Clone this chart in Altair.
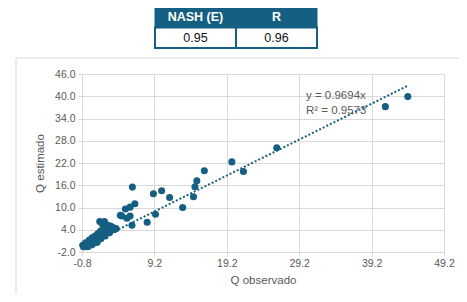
import altair as alt
import pandas as pd

# ---- data ----
q_observado = [
    -0.6, -0.5, -0.4, -0.3, -0.2, -0.1, 0.0, 0.1, 0.2, 0.3, 0.4, 0.5, 0.6, 0.7, 0.8, 0.9,
    1.0, 1.1, 1.2, 1.3, 1.4, 1.5, 1.6, 1.7, 1.8, 1.9, 2.0, 2.1, 2.2, 2.3, 2.4, 2.5, 2.6,
    2.7, 2.8, 2.9, 3.0, 3.2, 3.4, 3.1, 1.3, 0.6, 1.0,
    0.2, 0.6, 1.0, 1.4, 1.8, 2.2, 2.6, 0.0, 0.5, 1.8, 2.4, 3.0, 3.6, 3.9, -0.7, -0.3,
    1.65, 2.3, 2.0, 2.7,
    4.7, 5.4, 5.84, 5.2, 5.84, 6.5, 6.16, 6.1, 4.5,
    8.2, 9.35, 9.06, 10.2, 11.3, 13.1, 14.6, 14.8, 15.06, 16.1, 19.9, 21.5, 26.1, 41.1, 44.2,
]
q_estimado = [
    -0.6, -0.3, -0.6, -0.1, 0.1, -0.3, 0.3, 0.0, 0.6, 0.3, 0.9, 0.5, 1.1, 1.3, 0.9, 1.6,
    1.2, 1.9, 1.5, 2.2, 2.5, 1.9, 2.8, 2.3, 3.1, 2.6, 3.3, 3.6, 2.9, 3.9, 3.3, 4.1, 3.6,
    4.3, 3.8, 4.5, 4.0, 4.4, 4.7, 5.0, 0.6, 0.1, 0.5,
    1.2, 1.8, 2.3, 3.0, 3.7, 4.3, 4.8, -0.6, -0.1, 1.6, 2.3, 3.2, 4.0, 4.3, -0.2, 0.5,
    6.2, 6.2, 5.6, 5.3,
    7.7, 7.1, 7.7, 9.6, 10.1, 11.0, 15.5, 5.2, 7.9,
    6.0, 8.2, 13.7, 14.5, 12.7, 10.0, 12.9, 15.6, 17.2, 19.9, 22.3, 19.7, 26.1, 37.2, 39.9,
]
trend_slope = 0.9694
trend_r2 = 0.9573
equation_lines = [f"y = {trend_slope}x", f"R² = {trend_r2}"]

table_headers = ["NASH (E)", "R"]
table_values = [0.95, 0.96]

x_ticks = [-0.8, 9.2, 19.2, 29.2, 39.2, 49.2]
y_ticks = [-2.0, 4.0, 10.0, 16.0, 22.0, 28.0, 34.0, 40.0, 46.0]

# ---- styling ----
BLUE = "#156082"
GRAY_TXT = "#595959"
GRID = "#d9d9d9"
FONT = "Liberation Sans"
W, H = 362, 178
LABEL_EXPR = "replace(format(datum.value, '.1f'), '\u2212', '-')"

df = pd.DataFrame({"obs": q_observado, "est": q_estimado})

xscale = alt.Scale(domain=[x_ticks[0], x_ticks[-1]], nice=False, zero=False)
yscale = alt.Scale(domain=[y_ticks[0], y_ticks[-1]], nice=False, zero=False)

axis_common = dict(
    labelExpr=LABEL_EXPR, grid=True, gridColor=GRID, domainColor=GRID, tickColor=GRID,
    tickSize=4, labelColor=GRAY_TXT, labelFont=FONT, labelFontSize=10.5,
    titleColor=GRAY_TXT, titleFont=FONT, titleFontSize=11.5, titleFontWeight="normal",
    labelFlush=False, labelOverlap=False, labelBound=False,
)
x_axis = alt.Axis(values=x_ticks, labelPadding=2, titlePadding=6, **axis_common)
y_axis = alt.Axis(values=y_ticks, labelPadding=3, titlePadding=9, **axis_common)

frame = alt.Chart(pd.DataFrame({"a": [0]})).mark_rect(
    filled=False, stroke=GRID, strokeWidth=1
).encode(
    x=alt.value(-66), x2=alt.value(W + 60), y=alt.value(-16), y2=alt.value(H + 80)
)

points = alt.Chart(df).mark_circle(size=50, opacity=1, color=BLUE).encode(
    x=alt.X("obs:Q", scale=xscale, title="Q observado", axis=x_axis),
    y=alt.Y("est:Q", scale=yscale, title="Q estimado", axis=y_axis),
)

trend = alt.Chart(df).transform_calculate(
    fit=f"{trend_slope} * datum.obs"
).mark_line(color=BLUE, strokeWidth=2, strokeDash=[2, 2]).encode(
    x=alt.X("obs:Q", scale=xscale, title="Q observado", axis=x_axis),
    y=alt.Y("fit:Q", scale=yscale, title="Q estimado", axis=y_axis),
)

eq = alt.Chart(pd.DataFrame({"a": [0]})).mark_text(
    align="left", baseline="top", font=FONT, fontSize=11.5, color=GRAY_TXT, lineHeight=15
).encode(x=alt.value(224), y=alt.value(16), text=alt.value(equation_lines))

main = alt.layer(frame, points, trend, eq)

# ---- table ----
hdr = pd.DataFrame({"col": table_headers, "row": ["h"] * 2, "label": table_headers})
val = pd.DataFrame({"col": table_headers, "row": ["v"] * 2, "value": table_values})
tx = alt.X("col:N", sort=table_headers,
           scale=alt.Scale(domain=table_headers, range=[73, 235], paddingInner=0, paddingOuter=0),
           axis=None)
ty = alt.Y("row:N",
           scale=alt.Scale(domain=["h", "v"], range=[-67, -26], paddingInner=0, paddingOuter=0),
           axis=None)

hdr_rect = alt.Chart(hdr).mark_rect(color=BLUE, stroke=BLUE, strokeWidth=1).encode(x=tx, y=ty)
val_rect = alt.Chart(val).mark_rect(fill="white", stroke=BLUE, strokeWidth=2).encode(x=tx, y=ty)
hdr_txt = alt.Chart(hdr).mark_text(color="white", fontWeight="bold", font=FONT, fontSize=12.5).encode(
    x=tx, y=ty, text="label:N")
val_txt = alt.Chart(val).mark_text(color="#111111", font=FONT, fontSize=12.5, fontWeight="normal").encode(
    x=tx, y=ty, text=alt.Text("value:Q", format=".2f"))

table = alt.layer(val_rect, hdr_rect, hdr_txt, val_txt)

chart = alt.layer(main, table).resolve_scale(
    x="independent", y="independent"
).properties(
    width=W, height=H,
    autosize=alt.AutoSizeParams(type="none"),
    padding={"left": 74, "top": 66, "right": 15, "bottom": 42},
).configure_view(stroke=None)

chart.save("out.html", embed_options={"renderer": "svg", "actions": False})
